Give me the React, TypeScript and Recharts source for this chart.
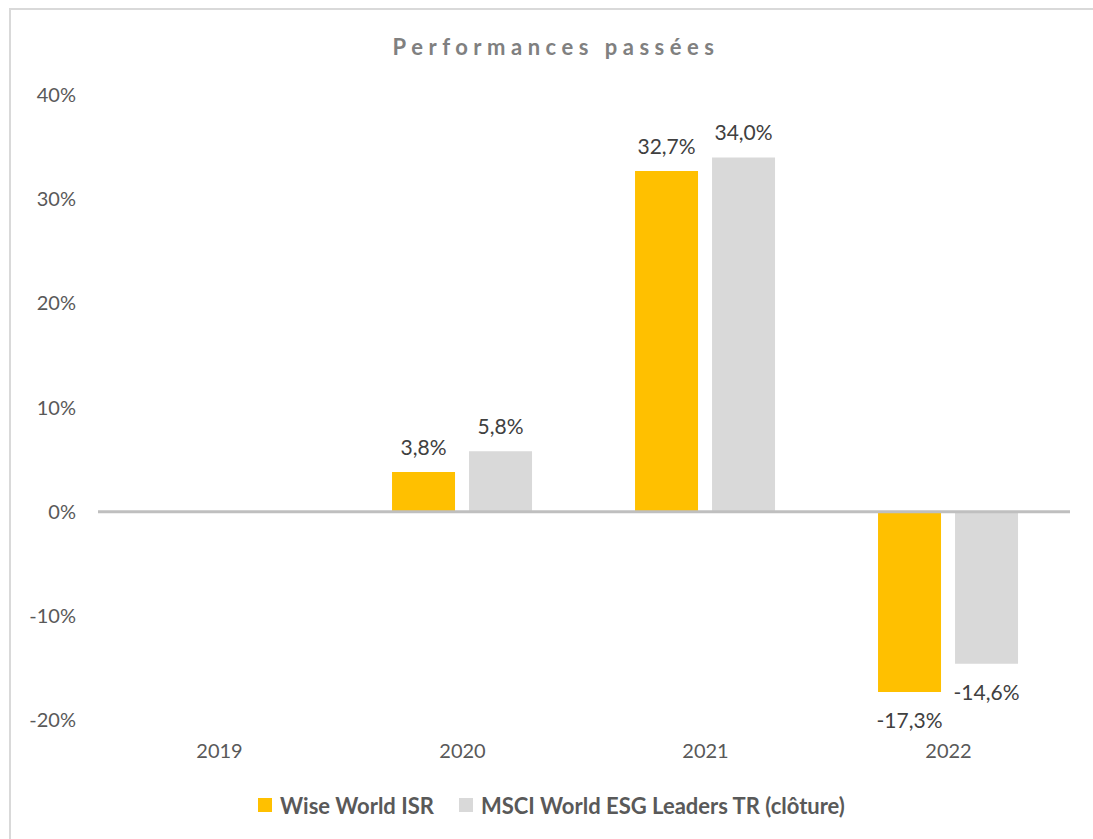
import React from "react";
import { BarChart, Bar, XAxis, YAxis, ReferenceLine, LabelList, Legend } from "recharts";

const categories = ["2019", "2020", "2021", "2022"];
const wiseWorldISR: (number | null)[] = [null, 3.8, 32.7, -17.3];
const msciWorldESG: (number | null)[] = [null, 5.8, 34.0, -14.6];
const yTicks = [-20, -10, 0, 10, 20, 30, 40];
const seriesNames = ["Wise World ISR", "MSCI World ESG Leaders TR (clôture)"];
const seriesColors = ["#FFC000", "#D9D9D9"];

const data = categories.map((c, i) => ({
  year: c,
  wise: wiseWorldISR[i],
  msci: msciWorldESG[i],
}));

const FONT = "Lato, 'Open Sans', sans-serif";

const fmt = (v: number) => v.toFixed(1).replace(".", ",") + "%";

const renderLabel = (props: any) => {
  const { x, y, width, height, value } = props;
  if (value === null || value === undefined) return null;
  const top = Math.min(y, y + height);
  const bottom = Math.max(y, y + height);
  const cx = x + width / 2;
  const cy = value >= 0 ? top - 26 : bottom + 28;
  return (
    <text
      x={cx}
      y={cy}
      textAnchor="middle"
      dominantBaseline="central"
      fill="#404040"
      fontSize={21}
      fontFamily={FONT}
    >
      {fmt(value)}
    </text>
  );
};

const LegendContent = () => (
  <div
    style={{
      display: "flex",
      justifyContent: "center",
      alignItems: "center",
      height: 30,
      fontFamily: FONT,
      fontWeight: 700,
      fontSize: 22,
      color: "#595959",
      paddingLeft: 10,
    }}
  >
    {seriesNames.map((n, i) => (
      <div key={n} style={{ display: "flex", alignItems: "center", marginRight: i === 0 ? 25 : 0 }}>
        <div style={{ width: 14, height: 14, background: seriesColors[i], marginRight: 8 }} />
        <span>{n}</span>
      </div>
    ))}
  </div>
);

export default function App() {
  return (
    <div style={{ position: "absolute", left: 0, top: 0, width: 1093, height: 839, background: "#fff", overflow: "hidden" }}>
      <div
        style={{
          position: "absolute",
          left: 9,
          top: 8,
          width: 1100,
          height: 900,
          borderLeft: "2px solid #D9D9D9",
          borderTop: "2px solid #D9D9D9",
        }}
      />
      <div
        style={{
          position: "absolute",
          left: 0,
          width: 1112,
          top: 33,
          textAlign: "center",
          fontFamily: FONT,
          fontWeight: 700,
          fontSize: 22,
          letterSpacing: 5.5,
          color: "#808080",
        }}
      >
        Performances passées
      </div>
      <div style={{ position: "absolute", left: 0, top: 0 }}>
        <BarChart
          width={1093}
          height={839}
          data={data}
          margin={{ top: 95, right: 23, left: 28, bottom: 49 }}
          barGap={14}
          barCategoryGap="21%"
        >
          <XAxis
            dataKey="year"
            axisLine={false}
            tickLine={false}
            tickMargin={18}
            height={40}
            tick={{ fill: "#595959", fontSize: 20, fontFamily: FONT }}
          />
          <YAxis
            type="number"
            domain={[-20, 40]}
            ticks={yTicks}
            interval={0}
            width={70}
            axisLine={false}
            tickLine={false}
            tickMargin={16}
            tickFormatter={(v: number) => `${v}%`}
            tick={{ fill: "#595959", fontSize: 20, fontFamily: FONT }}
          />
          <ReferenceLine y={0} stroke="#BFBFBF" strokeWidth={3} />
          <Bar dataKey="wise" name={seriesNames[0]} fill={seriesColors[0]} isAnimationActive={false}>
            <LabelList dataKey="wise" content={renderLabel} />
          </Bar>
          <Bar dataKey="msci" name={seriesNames[1]} fill={seriesColors[1]} isAnimationActive={false}>
            <LabelList dataKey="msci" content={renderLabel} />
          </Bar>
          <Legend
            verticalAlign="bottom"
            content={<LegendContent />}
            wrapperStyle={{ top: 790, left: 0, width: 1093, height: 30 }}
          />
        </BarChart>
      </div>
    </div>
  );
}
